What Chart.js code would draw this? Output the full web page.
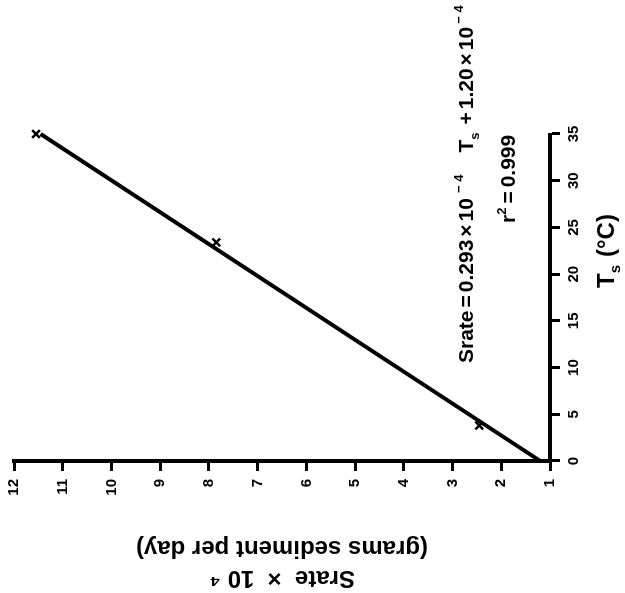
<!DOCTYPE html>
<html>
<head>
<meta charset="utf-8">
<script src="https://cdn.jsdelivr.net/npm/chart.js@4.4.1/dist/chart.umd.min.js"></script>
<style>
  html, body { margin: 0; padding: 0; background: #fff; overflow: hidden; }
  /* the plot is laid out upright, then turned a quarter turn to the left */
  #wrap {
    position: absolute; left: 0; top: 0;
    width: 593px; height: 625px;
    transform-origin: 0 0;
    transform: translate(0px, 593px) rotate(-90deg);
  }
</style>
</head>
<body>
<div id="wrap"><canvas id="chart" width="593" height="625"></canvas></div>
<script>
// measured sediment rate vs. surface temperature
const tempC = [3.8, 23.4, 35];
const srate = [2.45, 7.85, 11.55];

// regression line Srate = 0.293 Ts + 1.20 (x 10^-4), ends at 0 and 35 °C
const fitTemp = [0, 35];
const fitRate = [1.20, 11.455];

const tempTicks = [0, 5, 10, 15, 20, 25, 30, 35];
const rateTicks = [1, 2, 3, 4, 5, 6, 7, 8, 9, 10, 11, 12];

const FONT = "'Liberation Sans', Arial, Helvetica, sans-serif";

// draws a run of text pieces (with sub/superscripts) left to right
function drawRuns(ctx, runs, x, y) {
  runs.forEach(r => {
    if (r.gap) { x += r.gap; return; }
    ctx.font = 'bold ' + r.s + 'px ' + FONT;
    ctx.fillText(r.t, x, y + (r.dy || 0));
    x += ctx.measureText(r.t).width;
  });
}

const annotations = {
  id: 'annotations',
  afterDraw(chart) {
    const ctx = chart.ctx;
    ctx.save();
    ctx.fillStyle = '#000';
    ctx.textBaseline = 'alphabetic';
    ctx.textAlign = 'left';

    // x axis title
    drawRuns(ctx, [
      { t: 'T', s: 24 }, { t: 's', s: 15, dy: 6 }, { gap: 8 }, { t: '(°C)', s: 24 }
    ], 305, 614);

    // fitted equation
    const big = 21, small = 13;
    drawRuns(ctx, [
      { t: 'Srate', s: big }, { gap: 3 }, { t: '=', s: big }, { gap: 3 },
      { t: '0.293', s: big }, { gap: 3 }, { t: '×', s: big }, { gap: 3 },
      { t: '10', s: big }, { gap: 5 }, { t: '− 4', s: small, dy: -10 },
      { gap: 22 }, { t: 'T', s: big }, { t: 's', s: small, dy: 6 }, { gap: 8 },
      { t: '+', s: big }, { gap: 3 }, { t: '1.20', s: big }, { gap: 3 },
      { t: '×', s: big }, { gap: 3 }, { t: '10', s: big }, { gap: 3 },
      { t: '− 4', s: small, dy: -10 }
    ], 230, 473);

    // goodness of fit
    drawRuns(ctx, [
      { t: 'r', s: big }, { t: '2', s: small, dy: -9 }, { gap: 4 },
      { t: '=', s: big }, { gap: 4 }, { t: '0.999', s: big }
    ], 370, 515);

    ctx.restore();
  }
};

new Chart(document.getElementById('chart'), {
  type: 'scatter',
  data: {
    datasets: [
      {
        label: 'fit',
        data: fitTemp.map((t, i) => ({ x: t, y: fitRate[i] })),
        showLine: true,
        borderColor: '#000',
        borderWidth: 4,
        pointRadius: 0,
        clip: false
      },
      {
        label: 'measured',
        data: tempC.map((t, i) => ({ x: t, y: srate[i] })),
        pointStyle: 'crossRot',
        pointRadius: 5.5,
        borderColor: '#000',
        borderWidth: 2.5,
        clip: false
      }
    ]
  },
  options: {
    responsive: false,
    animation: false,
    devicePixelRatio: 1,
    layout: { padding: { top: 14, right: 134, left: 0, bottom: 0 } },
    plugins: {
      legend: { display: false },
      tooltip: { enabled: false }
    },
    scales: {
      x: {
        type: 'linear',
        min: 0,
        max: 35,
        afterBuildTicks: s => { s.ticks = tempTicks.map(v => ({ value: v })); },
        afterFit: s => { s.height = 75; s.paddingLeft = 0; s.paddingRight = 0; },
        grid: { drawOnChartArea: false, tickLength: 10, tickWidth: 3, color: '#000' },
        border: { display: true, width: 4, color: '#000' },
        ticks: { color: '#000', padding: 5, maxRotation: 0, font: { family: FONT, size: 15, weight: 'bold' } },
        title: { display: false }
      },
      y: {
        type: 'linear',
        min: 1,
        max: 12,
        afterBuildTicks: s => { s.ticks = rateTicks.map(v => ({ value: v })); },
        afterFit: s => { s.width = 132; s.paddingTop = 0; s.paddingBottom = 0; },
        grid: { drawOnChartArea: false, tickLength: 10, tickWidth: 3, color: '#000' },
        border: { display: true, width: 4, color: '#000' },
        ticks: { color: '#000', padding: 8, font: { family: FONT, size: 15, weight: 'bold' } },
        title: {
          display: true,
          text: ['Srate  ×  10 ⁴', '(grams sediment per day)'],
          color: '#000',
          padding: { top: 0, bottom: 0 },
          font: { family: FONT, size: 24, weight: 'bold', lineHeight: 1.25 }
        }
      }
    }
  },
  plugins: [annotations]
});
</script>
</body>
</html>
